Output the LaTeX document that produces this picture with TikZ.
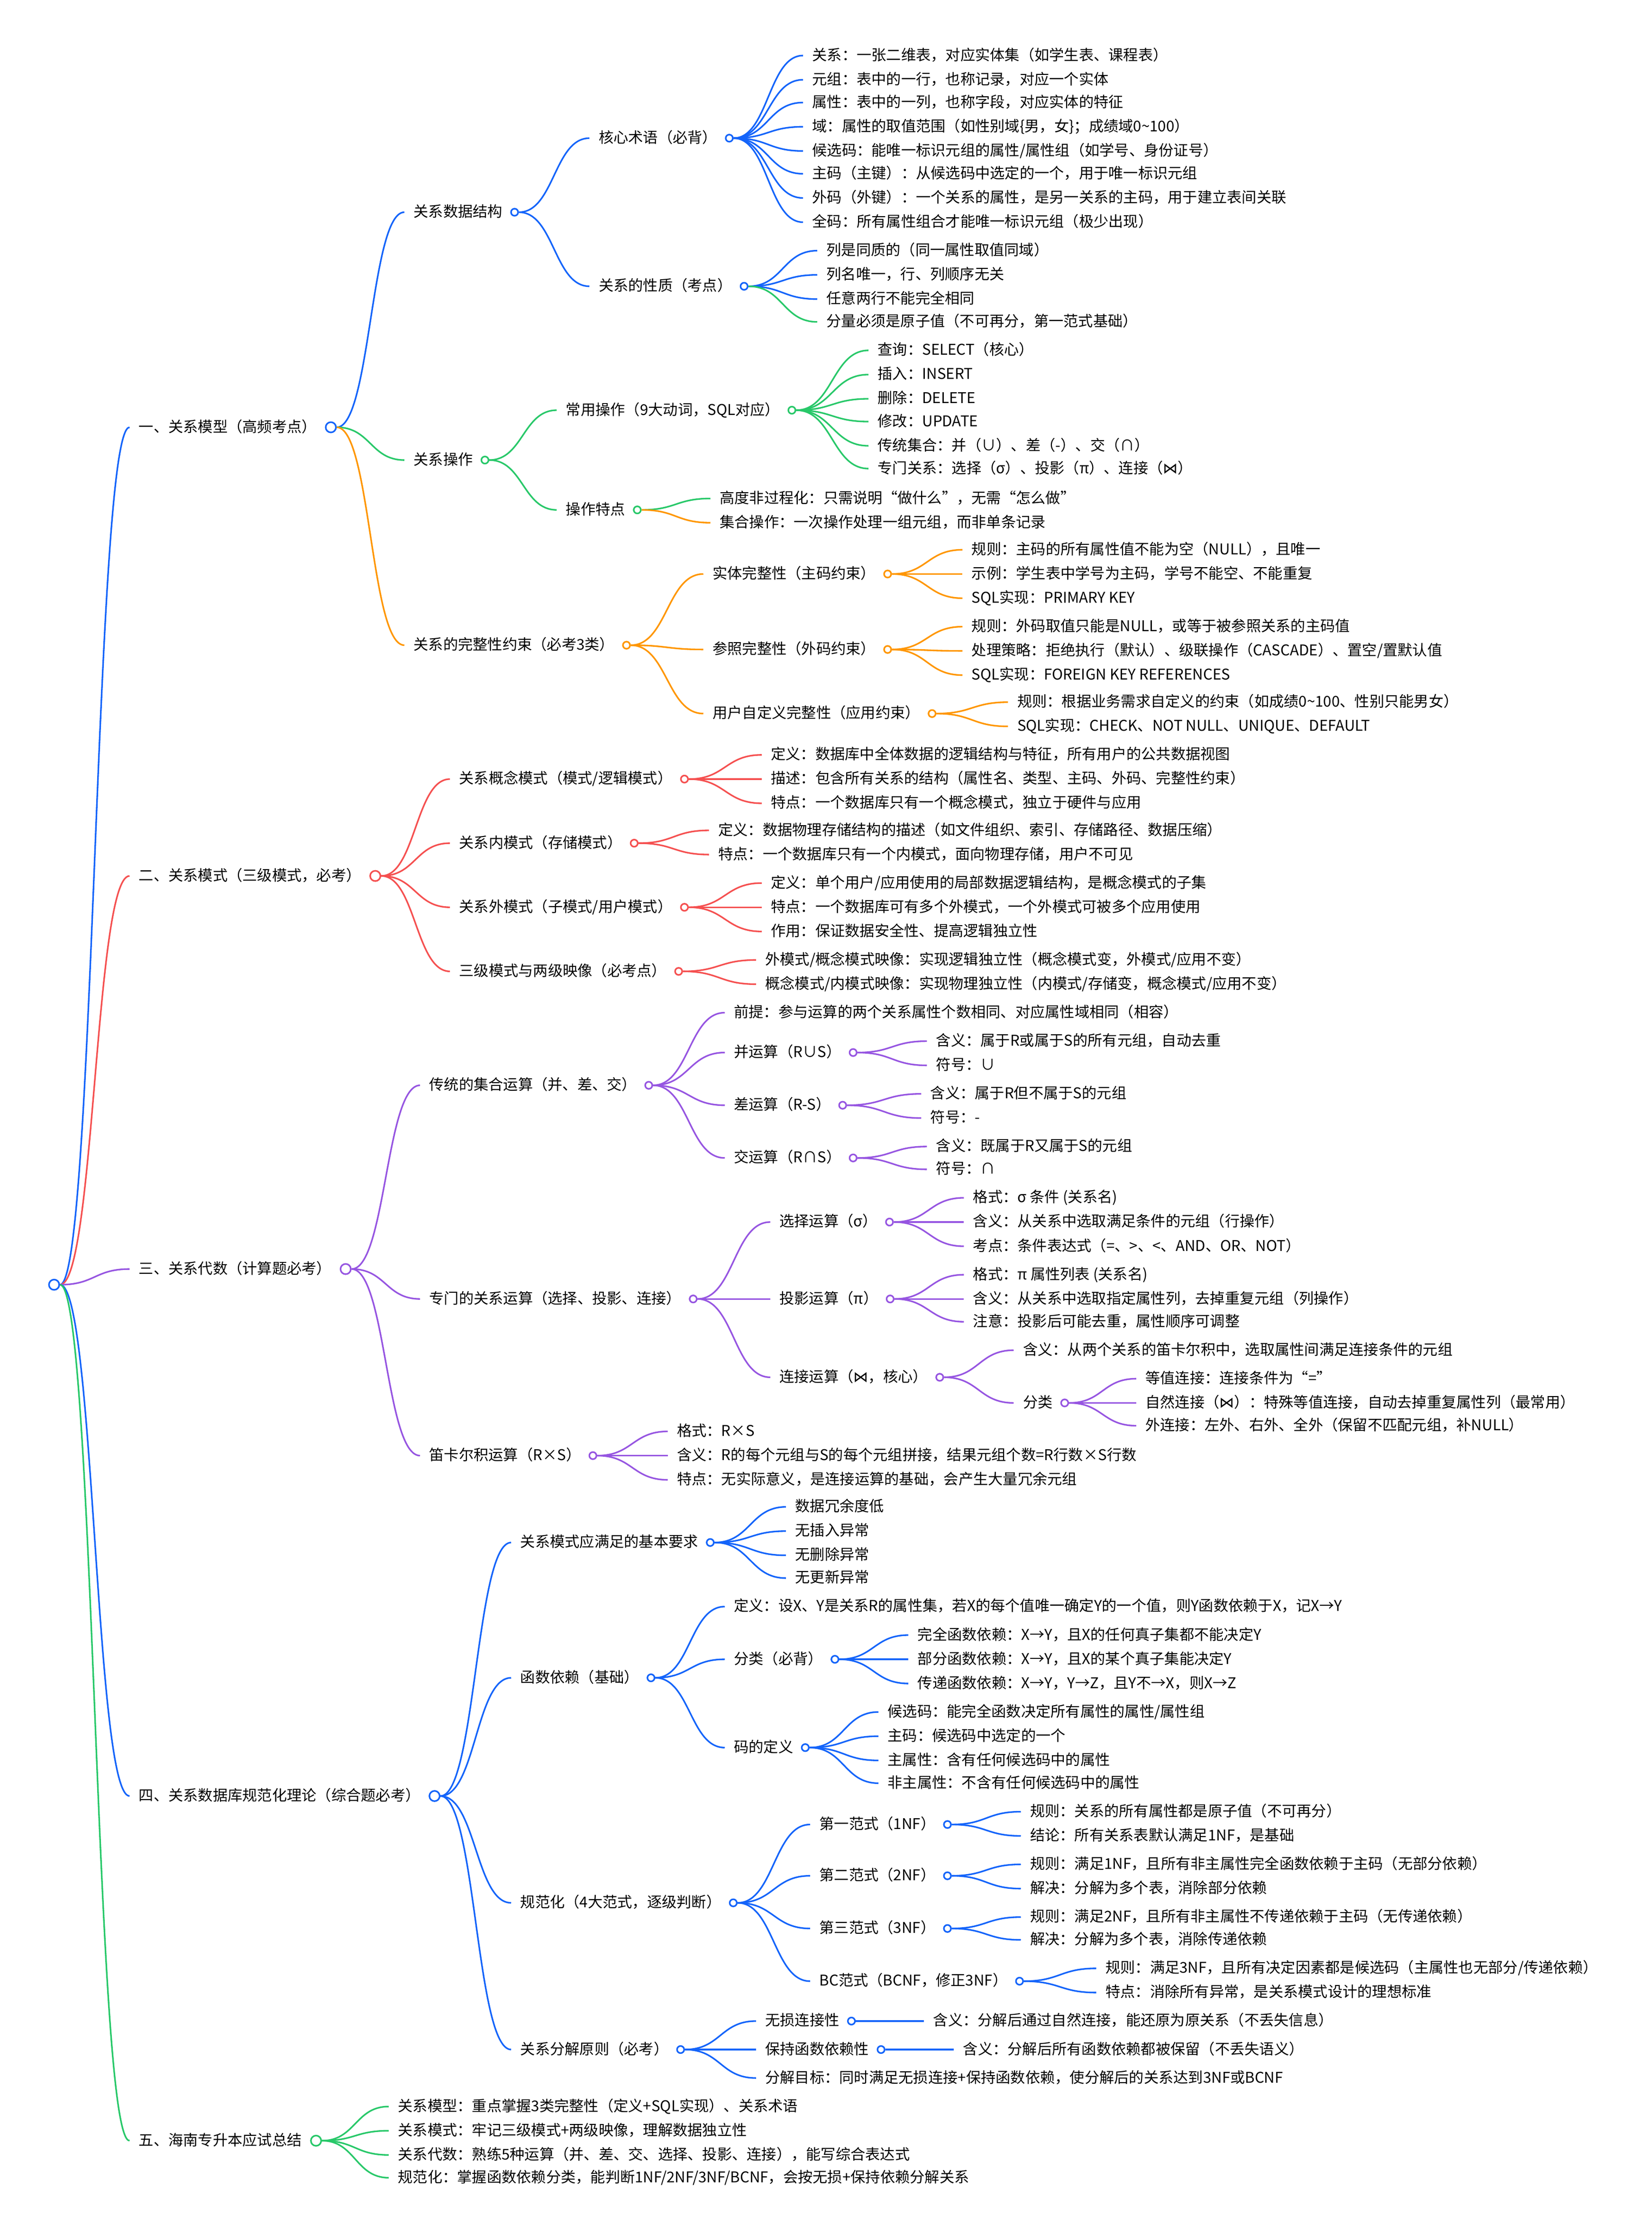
\documentclass[tikz,border=0pt]{standalone}
\usepackage{fontspec}
\setmainfont{Noto Sans CJK SC}
\newfontfamily\symfont{DejaVu Sans}
\usetikzlibrary{positioning,calc}
\definecolor{mblue}{RGB}{20,100,250}
\definecolor{mgreen}{RGB}{40,200,105}
\definecolor{morange}{RGB}{255,150,0}
\definecolor{mred}{RGB}{245,80,80}
\definecolor{mpurple}{RGB}{150,85,225}
\newcommand{\joinsym}{{\symfont ⋈}}
\newcommand{\conn}[3]{\draw[link,#1] let \p1=(#2-o.east), \p2=(#3.west) in (\p1) .. controls ({(\x1+\x2)/2},\y1) and ({(\x1+\x2)/2},\y2) .. (\p2);}
\tikzset{
  txt/.style={anchor=west,inner xsep=4.5pt,inner ysep=1pt,text height=6.2pt,text depth=1.4pt,font=\fontsize{7.5pt}{9pt}\selectfont},
  dot/.style={circle,draw,fill=white,line width=0.8pt,inner sep=0pt,minimum size=3.6pt},
  bigdot/.style={dot,minimum size=5.2pt},
  link/.style={line width=0.8pt}
}
\begin{document}
\begin{tikzpicture}[x=0.7208pt,y=-0.7208pt]
\useasboundingbox (0,0) rectangle (1160,1562.2);
\node[bigdot,draw=mblue] (root-o) at (38,902) {};

\node[txt] (model) at (91,300) {一、关系模型（高频考点）};
\node[bigdot,draw=mblue,right=-0.5pt of model] (model-o) {};
\node[txt] (struct) at (284,149) {关系数据结构};
\node[dot,draw=mblue,right=-0.8pt of struct] (struct-o) {};
\node[txt] (term) at (414,97) {核心术语（必背）};
\node[dot,draw=mblue,right=-0.8pt of term] (term-o) {};
\node[txt] (term1) at (564,39) {关系：一张二维表，对应实体集（如学生表、课程表）};
\node[txt] (term2) at (564,56) {元组：表中的一行，也称记录，对应一个实体};
\node[txt] (term3) at (564,72) {属性：表中的一列，也称字段，对应实体的特征};
\node[txt] (term4) at (564,89) {域：属性的取值范围（如性别域\{男，女\}；成绩域0\textasciitilde100）};
\node[txt] (term5) at (564,106) {候选码：能唯一标识元组的属性/属性组（如学号、身份证号）};
\node[txt] (term6) at (564,122) {主码（主键）：从候选码中选定的一个，用于唯一标识元组};
\node[txt] (term7) at (564,139) {外码（外键）：一个关系的属性，是另一关系的主码，用于建立表间关联};
\node[txt] (term8) at (564,156) {全码：所有属性组合才能唯一标识元组（极少出现）};
\node[txt] (prop) at (414,201) {关系的性质（考点）};
\node[dot,draw=mblue,right=-0.8pt of prop] (prop-o) {};
\node[txt] (prop1) at (574,176) {列是同质的（同一属性取值同域）};
\node[txt] (prop2) at (574,193) {列名唯一，行、列顺序无关};
\node[txt] (prop3) at (574,210) {任意两行不能完全相同};
\node[txt] (prop4) at (574,226) {分量必须是原子值（不可再分，第一范式基础）};
\node[txt] (oper) at (284,323) {关系操作};
\node[dot,draw=mgreen,right=-0.8pt of oper] (oper-o) {};
\node[txt] (common) at (391,288) {常用操作（9大动词，SQL对应）};
\node[dot,draw=mgreen,right=-0.8pt of common] (common-o) {};
\node[txt] (common1) at (610,246) {查询：SELECT（核心）};
\node[txt] (common2) at (610,263) {插入：INSERT};
\node[txt] (common3) at (610,280) {删除：DELETE};
\node[txt] (common4) at (610,296) {修改：UPDATE};
\node[txt] (common5) at (610,313) {传统集合：并（∪）、差（-）、交（∩）};
\node[txt] (common6) at (610,329) {专门关系：选择（σ）、投影（π）、连接（\joinsym）};
\node[txt] (feat) at (391,358) {操作特点};
\node[dot,draw=mgreen,right=-0.8pt of feat] (feat-o) {};
\node[txt] (feat1) at (499,350) {高度非过程化：只需说明“做什么”，无需“怎么做”};
\node[txt] (feat2) at (499,367) {集合操作：一次操作处理一组元组，而非单条记录};
\node[txt] (integ) at (284,453) {关系的完整性约束（必考3类）};
\node[dot,draw=morange,right=-0.8pt of integ] (integ-o) {};
\node[txt] (entity) at (494,403) {实体完整性（主码约束）};
\node[dot,draw=morange,right=-0.8pt of entity] (entity-o) {};
\node[txt] (entity1) at (676,386) {规则：主码的所有属性值不能为空（NULL），且唯一};
\node[txt] (entity2) at (676,403) {示例：学生表中学号为主码，学号不能空、不能重复};
\node[txt] (entity3) at (676,420) {SQL实现：PRIMARY KEY};
\node[txt] (refer) at (494,456) {参照完整性（外码约束）};
\node[dot,draw=morange,right=-0.8pt of refer] (refer-o) {};
\node[txt] (refer1) at (676,440) {规则：外码取值只能是NULL，或等于被参照关系的主码值};
\node[txt] (refer2) at (676,457) {处理策略：拒绝执行（默认）、级联操作（CASCADE）、置空/置默认值};
\node[txt] (refer3) at (676,474) {SQL实现：FOREIGN KEY REFERENCES};
\node[txt] (user) at (494,501) {用户自定义完整性（应用约束）};
\node[dot,draw=morange,right=-0.8pt of user] (user-o) {};
\node[txt] (user1) at (708,493) {规则：根据业务需求自定义的约束（如成绩0\textasciitilde100、性别只能男女）};
\node[txt] (user2) at (708,510) {SQL实现：CHECK、NOT NULL、UNIQUE、DEFAULT};

\node[txt] (schema) at (91,615) {二、关系模式（三级模式，必考）};
\node[bigdot,draw=mred,right=-0.5pt of schema] (schema-o) {};
\node[txt] (concept) at (316,547) {关系概念模式（模式/逻辑模式）};
\node[dot,draw=mred,right=-0.8pt of concept] (concept-o) {};
\node[txt] (concept1) at (535,530) {定义：数据库中全体数据的逻辑结构与特征，所有用户的公共数据视图};
\node[txt] (concept2) at (535,547) {描述：包含所有关系的结构（属性名、类型、主码、外码、完整性约束）};
\node[txt] (concept3) at (535,564) {特点：一个数据库只有一个概念模式，独立于硬件与应用};
\node[txt] (internal) at (316,592) {关系内模式（存储模式）};
\node[dot,draw=mred,right=-0.8pt of internal] (internal-o) {};
\node[txt] (internal1) at (498,583) {定义：数据物理存储结构的描述（如文件组织、索引、存储路径、数据压缩）};
\node[txt] (internal2) at (498,600) {特点：一个数据库只有一个内模式，面向物理存储，用户不可见};
\node[txt] (external) at (316,637) {关系外模式（子模式/用户模式）};
\node[dot,draw=mred,right=-0.8pt of external] (external-o) {};
\node[txt] (external1) at (535,620) {定义：单个用户/应用使用的局部数据逻辑结构，是概念模式的子集};
\node[txt] (external2) at (535,637) {特点：一个数据库可有多个外模式，一个外模式可被多个应用使用};
\node[txt] (external3) at (535,654) {作用：保证数据安全性、提高逻辑独立性};
\node[txt] (mapping) at (316,682) {三级模式与两级映像（必考点）};
\node[dot,draw=mred,right=-0.8pt of mapping] (mapping-o) {};
\node[txt] (mapping1) at (531,674) {外模式/概念模式映像：实现逻辑独立性（概念模式变，外模式/应用不变）};
\node[txt] (mapping2) at (531,691) {概念模式/内模式映像：实现物理独立性（内模式/存储变，概念模式/应用不变）};

\node[txt] (algebra) at (91,891) {三、关系代数（计算题必考）};
\node[bigdot,draw=mpurple,right=-0.5pt of algebra] (algebra-o) {};
\node[txt] (setop) at (295,762) {传统的集合运算（并、差、交）};
\node[dot,draw=mpurple,right=-0.8pt of setop] (setop-o) {};
\node[txt] (premise) at (509,711) {前提：参与运算的两个关系属性个数相同、对应属性域相同（相容）};
\node[txt] (union) at (509,739) {并运算（R∪S）};
\node[dot,draw=mpurple,right=-0.8pt of union] (union-o) {};
\node[txt] (union1) at (651,731) {含义：属于R或属于S的所有元组，自动去重};
\node[txt] (union2) at (651,748) {符号：∪};
\node[txt] (diff) at (509,776) {差运算（R-S）};
\node[dot,draw=mpurple,right=-0.8pt of diff] (diff-o) {};
\node[txt] (diff1) at (647,768) {含义：属于R但不属于S的元组};
\node[txt] (diff2) at (647,785) {符号：-};
\node[txt] (inter) at (509,813) {交运算（R∩S）};
\node[dot,draw=mpurple,right=-0.8pt of inter] (inter-o) {};
\node[txt] (inter1) at (651,805) {含义：既属于R又属于S的元组};
\node[txt] (inter2) at (651,821) {符号：∩};
\node[txt] (special) at (295,912) {专门的关系运算（选择、投影、连接）};
\node[dot,draw=mpurple,right=-0.8pt of special] (special-o) {};
\node[txt] (select) at (541,858) {选择运算（σ）};
\node[dot,draw=mpurple,right=-0.8pt of select] (select-o) {};
\node[txt] (select1) at (677,841) {格式：σ 条件 (关系名)};
\node[txt] (select2) at (677,858) {含义：从关系中选取满足条件的元组（行操作）};
\node[txt] (select3) at (677,875) {考点：条件表达式（=、>、<、AND、OR、NOT）};
\node[txt] (project) at (541,912) {投影运算（π）};
\node[dot,draw=mpurple,right=-0.8pt of project] (project-o) {};
\node[txt] (project1) at (677,895) {格式：π 属性列表 (关系名)};
\node[txt] (project2) at (677,912) {含义：从关系中选取指定属性列，去掉重复元组（列操作）};
\node[txt] (project3) at (677,928) {注意：投影后可能去重，属性顺序可调整};
\node[txt] (join) at (541,967) {连接运算（\joinsym，核心）};
\node[dot,draw=mpurple,right=-0.8pt of join] (join-o) {};
\node[txt] (join1) at (712,948) {含义：从两个关系的笛卡尔积中，选取属性间满足连接条件的元组};
\node[txt] (jtype) at (712,985) {分类};
\node[dot,draw=mpurple,right=-0.8pt of jtype] (jtype-o) {};
\node[txt] (jtype1) at (798,968) {等值连接：连接条件为“=”};
\node[txt] (jtype2) at (798,985) {自然连接（\joinsym）：特殊等值连接，自动去掉重复属性列（最常用）};
\node[txt] (jtype3) at (798,1001) {外连接：左外、右外、全外（保留不匹配元组，补NULL）};
\node[txt] (cart) at (295,1022) {笛卡尔积运算（R×S）};
\node[dot,draw=mpurple,right=-0.8pt of cart] (cart-o) {};
\node[txt] (cart1) at (469,1005) {格式：R×S};
\node[txt] (cart2) at (469,1022) {含义：R的每个元组与S的每个元组拼接，结果元组个数=R行数×S行数};
\node[txt] (cart3) at (469,1039) {特点：无实际意义，是连接运算的基础，会产生大量冗余元组};

\node[txt] (norm) at (91,1261) {四、关系数据库规范化理论（综合题必考）};
\node[bigdot,draw=mblue,right=-0.5pt of norm] (norm-o) {};
\node[txt] (req) at (359,1083) {关系模式应满足的基本要求};
\node[dot,draw=mblue,right=-0.8pt of req] (req-o) {};
\node[txt] (req1) at (552,1058) {数据冗余度低};
\node[txt] (req2) at (552,1075) {无插入异常};
\node[txt] (req3) at (552,1092) {无删除异常};
\node[txt] (req4) at (552,1108) {无更新异常};
\node[txt] (fd) at (359,1178) {函数依赖（基础）};
\node[dot,draw=mblue,right=-0.8pt of fd] (fd-o) {};
\node[txt] (fd1) at (509,1128) {定义：设X、Y是关系R的属性集，若X的每个值唯一确定Y的一个值，则Y函数依赖于X，记X→Y};
\node[txt] (fdtype) at (509,1165) {分类（必背）};
\node[dot,draw=mblue,right=-0.8pt of fdtype] (fdtype-o) {};
\node[txt] (fdtype1) at (638,1148) {完全函数依赖：X→Y，且X的任何真子集都不能决定Y};
\node[txt] (fdtype2) at (638,1165) {部分函数依赖：X→Y，且X的某个真子集能决定Y};
\node[txt] (fdtype3) at (638,1182) {传递函数依赖：X→Y，Y→Z，且Y不→X，则X→Z};
\node[txt] (key) at (509,1227) {码的定义};
\node[dot,draw=mblue,right=-0.8pt of key] (key-o) {};
\node[txt] (key1) at (617,1202) {候选码：能完全函数决定所有属性的属性/属性组};
\node[txt] (key2) at (617,1219) {主码：候选码中选定的一个};
\node[txt] (key3) at (617,1236) {主属性：含有任何候选码中的属性};
\node[txt] (key4) at (617,1252) {非主属性：不含有任何候选码中的属性};
\node[txt] (nf) at (359,1336) {规范化（4大范式，逐级判断）};
\node[dot,draw=mblue,right=-0.8pt of nf] (nf-o) {};
\node[txt] (nf1) at (569,1281) {第一范式（1NF）};
\node[dot,draw=mblue,right=-0.8pt of nf1] (nf1-o) {};
\node[txt] (nf1a) at (717,1272) {规则：关系的所有属性都是原子值（不可再分）};
\node[txt] (nf1b) at (717,1289) {结论：所有关系表默认满足1NF，是基础};
\node[txt] (nf2) at (569,1317) {第二范式（2NF）};
\node[dot,draw=mblue,right=-0.8pt of nf2] (nf2-o) {};
\node[txt] (nf2a) at (717,1309) {规则：满足1NF，且所有非主属性完全函数依赖于主码（无部分依赖）};
\node[txt] (nf2b) at (717,1326) {解决：分解为多个表，消除部分依赖};
\node[txt] (nf3) at (569,1354) {第三范式（3NF）};
\node[dot,draw=mblue,right=-0.8pt of nf3] (nf3-o) {};
\node[txt] (nf3a) at (717,1346) {规则：满足2NF，且所有非主属性不传递依赖于主码（无传递依赖）};
\node[txt] (nf3b) at (717,1362) {解决：分解为多个表，消除传递依赖};
\node[txt] (bcnf) at (569,1391) {BC范式（BCNF，修正3NF）};
\node[dot,draw=mblue,right=-0.8pt of bcnf] (bcnf-o) {};
\node[txt] (bcnfa) at (770,1382) {规则：满足3NF，且所有决定因素都是候选码（主属性也无部分/传递依赖）};
\node[txt] (bcnfb) at (770,1399) {特点：消除所有异常，是关系模式设计的理想标准};
\node[txt] (decomp) at (359,1439) {关系分解原则（必考）};
\node[dot,draw=mblue,right=-0.8pt of decomp] (decomp-o) {};
\node[txt] (lossless) at (531,1419) {无损连接性};
\node[dot,draw=mblue,right=-0.8pt of lossless] (lossless-o) {};
\node[txt] (lossless1) at (649,1419) {含义：分解后通过自然连接，能还原为原关系（不丢失信息）};
\node[txt] (keepfd) at (531,1439) {保持函数依赖性};
\node[dot,draw=mblue,right=-0.8pt of keepfd] (keepfd-o) {};
\node[txt] (keepfd1) at (670,1439) {含义：分解后所有函数依赖都被保留（不丢失语义）};
\node[txt] (goal) at (531,1459) {分解目标：同时满足无损连接+保持函数依赖，使分解后的关系达到3NF或BCNF};

\node[txt] (summary) at (91,1503) {五、海南专升本应试总结};
\node[bigdot,draw=mgreen,right=-0.5pt of summary] (summary-o) {};
\node[txt] (summary1) at (273,1479) {关系模型：重点掌握3类完整性（定义+SQL实现）、关系术语};
\node[txt] (summary2) at (273,1496) {关系模式：牢记三级模式+两级映像，理解数据独立性};
\node[txt] (summary3) at (273,1513) {关系代数：熟练5种运算（并、差、交、选择、投影、连接），能写综合表达式};
\node[txt] (summary4) at (273,1529) {规范化：掌握函数依赖分类，能判断1NF/2NF/3NF/BCNF，会按无损+保持依赖分解关系};

\conn{mblue}{root}{model}
\conn{mred}{root}{schema}
\conn{mpurple}{root}{algebra}
\conn{mblue}{root}{norm}
\conn{mgreen}{root}{summary}

\conn{mblue}{model}{struct}
\conn{mgreen}{model}{oper}
\conn{morange}{model}{integ}
\conn{mblue}{struct}{term}
\conn{mblue}{struct}{prop}
\conn{mblue}{term}{term1}
\conn{mblue}{term}{term2}
\conn{mblue}{term}{term3}
\conn{mblue}{term}{term4}
\conn{mblue}{term}{term5}
\conn{mblue}{term}{term6}
\conn{mblue}{term}{term7}
\conn{mblue}{term}{term8}
\conn{mblue}{prop}{prop1}
\conn{mblue}{prop}{prop2}
\conn{mblue}{prop}{prop3}
\conn{mgreen}{prop}{prop4}
\conn{mgreen}{oper}{common}
\conn{mgreen}{oper}{feat}
\conn{mgreen}{common}{common1}
\conn{mgreen}{common}{common2}
\conn{mgreen}{common}{common3}
\conn{mgreen}{common}{common4}
\conn{mgreen}{common}{common5}
\conn{mgreen}{common}{common6}
\conn{mgreen}{feat}{feat1}
\conn{morange}{feat}{feat2}
\conn{morange}{integ}{entity}
\conn{morange}{integ}{refer}
\conn{morange}{integ}{user}
\conn{morange}{entity}{entity1}
\conn{morange}{entity}{entity2}
\conn{morange}{entity}{entity3}
\conn{morange}{refer}{refer1}
\conn{morange}{refer}{refer2}
\conn{morange}{refer}{refer3}
\conn{morange}{user}{user1}
\conn{morange}{user}{user2}

\conn{mred}{schema}{concept}
\conn{mred}{schema}{internal}
\conn{mred}{schema}{external}
\conn{mred}{schema}{mapping}
\conn{mred}{concept}{concept1}
\conn{mred}{concept}{concept2}
\conn{mred}{concept}{concept3}
\conn{mred}{internal}{internal1}
\conn{mred}{internal}{internal2}
\conn{mred}{external}{external1}
\conn{mred}{external}{external2}
\conn{mred}{external}{external3}
\conn{mred}{mapping}{mapping1}
\conn{mred}{mapping}{mapping2}

\conn{mpurple}{algebra}{setop}
\conn{mpurple}{algebra}{special}
\conn{mpurple}{algebra}{cart}
\conn{mpurple}{setop}{premise}
\conn{mpurple}{setop}{union}
\conn{mpurple}{setop}{diff}
\conn{mpurple}{setop}{inter}
\conn{mpurple}{union}{union1}
\conn{mpurple}{union}{union2}
\conn{mpurple}{diff}{diff1}
\conn{mpurple}{diff}{diff2}
\conn{mpurple}{inter}{inter1}
\conn{mpurple}{inter}{inter2}
\conn{mpurple}{special}{select}
\conn{mpurple}{special}{project}
\conn{mpurple}{special}{join}
\conn{mpurple}{select}{select1}
\conn{mpurple}{select}{select2}
\conn{mpurple}{select}{select3}
\conn{mpurple}{project}{project1}
\conn{mpurple}{project}{project2}
\conn{mpurple}{project}{project3}
\conn{mpurple}{join}{join1}
\conn{mpurple}{join}{jtype}
\conn{mpurple}{jtype}{jtype1}
\conn{mpurple}{jtype}{jtype2}
\conn{mpurple}{jtype}{jtype3}
\conn{mpurple}{cart}{cart1}
\conn{mpurple}{cart}{cart2}
\conn{mpurple}{cart}{cart3}

\conn{mblue}{norm}{req}
\conn{mblue}{norm}{fd}
\conn{mblue}{norm}{nf}
\conn{mblue}{norm}{decomp}
\conn{mblue}{req}{req1}
\conn{mblue}{req}{req2}
\conn{mblue}{req}{req3}
\conn{mblue}{req}{req4}
\conn{mblue}{fd}{fd1}
\conn{mblue}{fd}{fdtype}
\conn{mblue}{fd}{key}
\conn{mblue}{fdtype}{fdtype1}
\conn{mblue}{fdtype}{fdtype2}
\conn{mblue}{fdtype}{fdtype3}
\conn{mblue}{key}{key1}
\conn{mblue}{key}{key2}
\conn{mblue}{key}{key3}
\conn{mblue}{key}{key4}
\conn{mblue}{nf}{nf1}
\conn{mblue}{nf}{nf2}
\conn{mblue}{nf}{nf3}
\conn{mblue}{nf}{bcnf}
\conn{mblue}{nf1}{nf1a}
\conn{mblue}{nf1}{nf1b}
\conn{mblue}{nf2}{nf2a}
\conn{mblue}{nf2}{nf2b}
\conn{mblue}{nf3}{nf3a}
\conn{mblue}{nf3}{nf3b}
\conn{mblue}{bcnf}{bcnfa}
\conn{mblue}{bcnf}{bcnfb}
\conn{mblue}{decomp}{lossless}
\conn{mblue}{decomp}{keepfd}
\conn{mblue}{decomp}{goal}
\conn{mblue}{lossless}{lossless1}
\conn{mblue}{keepfd}{keepfd1}

\conn{mgreen}{summary}{summary1}
\conn{mgreen}{summary}{summary2}
\conn{mgreen}{summary}{summary3}
\conn{mgreen}{summary}{summary4}
\end{tikzpicture}
\end{document}
